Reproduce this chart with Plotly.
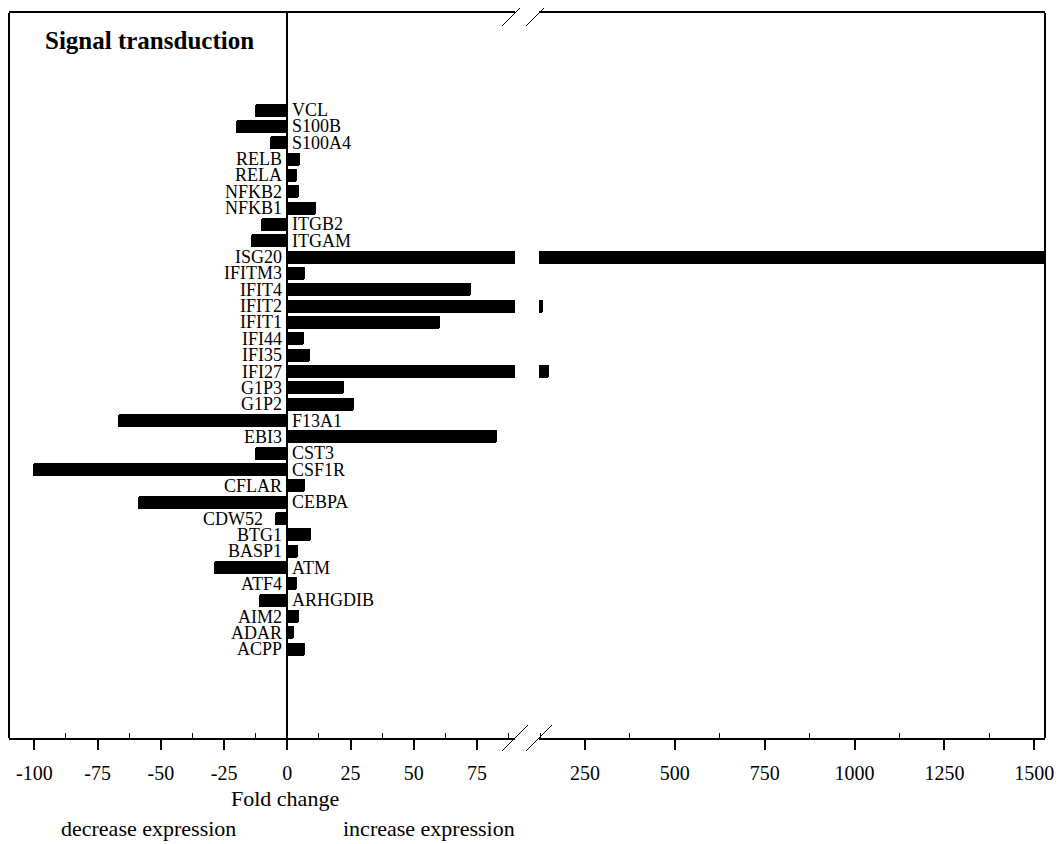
import plotly.graph_objects as go

# ---------------- data ----------------
genes = ["VCL", "S100B", "S100A4", "RELB", "RELA", "NFKB2", "NFKB1", "ITGB2", "ITGAM",
         "ISG20", "IFITM3", "IFIT4", "IFIT2", "IFIT1", "IFI44", "IFI35", "IFI27", "G1P3",
         "G1P2", "F13A1", "EBI3", "CST3", "CSF1R", "CFLAR", "CEBPA", "CDW52", "BTG1",
         "BASP1", "ATM", "ATF4", "ARHGDIB", "AIM2", "ADAR", "ACPP"]
fold_change = [-12.7, -20.3, -6.8, 5.0, 3.9, 4.8, 11.4, -10.5, -14.4,
               1530, 7.1, 72.5, 133, 60.4, 6.7, 9.1, 150, 22.6,
               26.2, -66.9, 82.8, -12.9, -100.4, 6.8, -59.0, -4.8, 9.5,
               4.3, -28.9, 3.7, -11.3, 4.5, 2.6, 6.8]
# where each gene label sits: "axis" = beside the zero line, "bar" = beside bar end
label_anchor = ["axis"] * len(genes)
label_anchor[genes.index("CDW52")] = "bar"

left_ticks = [-100, -75, -50, -25, 0, 25, 50, 75]
left_minor = [-87.5, -62.5, -37.5, -12.5, 12.5, 37.5, 62.5, 87.5]
right_ticks = [250, 500, 750, 1000, 1250, 1500]
right_minor = [125, 375, 625, 875, 1125, 1375]

title_text = "Signal transduction"
xlabel = "Fold change"
left_note = "decrease expression"
right_note = "increase expression"

# ---------------- layout constants ----------------
OFF = 8                      # page body margin
W, H = 1064 - 2 * OFF, 850
ML, MT = 9 - OFF, 13 - OFF
MR = W - (1045 - OFF)
MB = H - (738 - OFF)
PW = W - ML - MR
PH = H - MT - MB


def px_x(px):
    return (px - OFF - ML) / PW


def px_y(py):
    return (MT + PH - (py - OFF)) / PH


left_dom = [0, px_x(515)]
right_dom = [px_x(539), 1]
FONT = "Liberation Serif, Times New Roman, serif"

n = len(genes)
ypos = [n - 1 - i for i in range(n)]  # first gene at top

fig = go.Figure()
for xa in ("x", "x2"):
    fig.add_trace(go.Bar(x=fold_change, y=ypos, orientation="h", width=0.8,
                         marker=dict(color="black", line=dict(width=0), cornerradius=2),
                         xaxis=xa, yaxis="y", showlegend=False, hoverinfo="skip"))

annotations = []
for g, v, yv, anc in zip(genes, fold_change, ypos, label_anchor):
    if anc == "bar":
        annotations.append(dict(x=v, y=yv, xref="x", yref="y", text=g, showarrow=False,
                                xanchor="right", yanchor="middle", xshift=-10,
                                font=dict(family=FONT, size=18, color="black")))
    elif v >= 0:
        annotations.append(dict(x=0, y=yv, xref="x", yref="y", text=g, showarrow=False,
                                xanchor="right", yanchor="middle", xshift=-3,
                                font=dict(family=FONT, size=18, color="black")))
    else:
        annotations.append(dict(x=0, y=yv, xref="x", yref="y", text=g, showarrow=False,
                                xanchor="left", yanchor="middle", xshift=3,
                                font=dict(family=FONT, size=18, color="black")))

annotations += [
    dict(x=px_x(43), y=px_y(41), xref="paper", yref="paper",
         text="<b>" + title_text + "</b>", showarrow=False, xanchor="left", yanchor="middle",
         font=dict(family=FONT, size=25, color="black")),
    dict(x=-1, y=px_y(798), xref="x", yref="paper", text=xlabel, showarrow=False,
         xanchor="center", yanchor="middle", font=dict(family=FONT, size=22, color="black")),
    dict(x=-55, y=px_y(828), xref="x", yref="paper", text=left_note, showarrow=False,
         xanchor="center", yanchor="middle", font=dict(family=FONT, size=22, color="black")),
    dict(x=56, y=px_y(828), xref="x", yref="paper", text=right_note, showarrow=False,
         xanchor="center", yanchor="middle", font=dict(family=FONT, size=22, color="black")),
]

# frame verticals and axis-break marks
dx = 13 / PW
dy = 13 / PH
shapes = [
    dict(type="line", xref="paper", yref="paper", x0=0, x1=0, y0=0, y1=1,
         line=dict(color="black", width=2)),
    dict(type="line", xref="paper", yref="paper", x0=1, x1=1, y0=0, y1=1,
         line=dict(color="black", width=2)),
]
for cx in (left_dom[1], right_dom[0]):
    for cy in (0, 1):
        shapes.append(dict(type="line", xref="paper", yref="paper",
                           x0=cx - dx, x1=cx + dx, y0=cy - dy, y1=cy + dy,
                           line=dict(color="black", width=1)))

axis_common = dict(showgrid=False, showline=True, linecolor="black", linewidth=2, mirror=True,
                   ticks="outside", ticklen=10, tickwidth=2, tickcolor="black",
                   ticklabelstandoff=6,
                   tickfont=dict(family=FONT, size=20, color="black"), anchor="y")

fig.update_layout(
    width=W, height=H,
    margin=dict(l=ML, r=MR, t=MT, b=MB),
    paper_bgcolor="white", plot_bgcolor="white",
    bargap=0, showlegend=False,
    xaxis=dict(domain=left_dom, range=[-110, 90], tickvals=left_ticks,
               ticktext=[str(t) for t in left_ticks],
               zeroline=True, zerolinecolor="black", zerolinewidth=2,
               minor=dict(tickvals=left_minor, ticks="inside", ticklen=5, tickwidth=1,
                          tickcolor="black", showgrid=False),
               **axis_common),
    xaxis2=dict(domain=right_dom, range=[122, 1530], tickvals=right_ticks,
                ticktext=[str(t) for t in right_ticks], zeroline=False,
                minor=dict(tickvals=right_minor, ticks="inside", ticklen=5, tickwidth=1,
                           tickcolor="black", showgrid=False),
                **axis_common),
    xaxis3=dict(overlaying="x", side="top", anchor="y", range=[-110, 90],
                tickvals=left_minor, ticks="inside", ticklen=5, tickwidth=1, tickcolor="black",
                showticklabels=False, showline=False, showgrid=False, zeroline=False),
    xaxis4=dict(overlaying="x2", side="top", anchor="y", range=[122, 1530],
                tickvals=right_minor, ticks="inside", ticklen=5, tickwidth=1, tickcolor="black",
                showticklabels=False, showline=False, showgrid=False, zeroline=False),
    yaxis=dict(range=[-5.43, 38.94], showticklabels=False, showgrid=False, zeroline=False,
               showline=False, ticks=""),
    annotations=annotations,
    shapes=shapes,
)

fig.write_html("out.html")
